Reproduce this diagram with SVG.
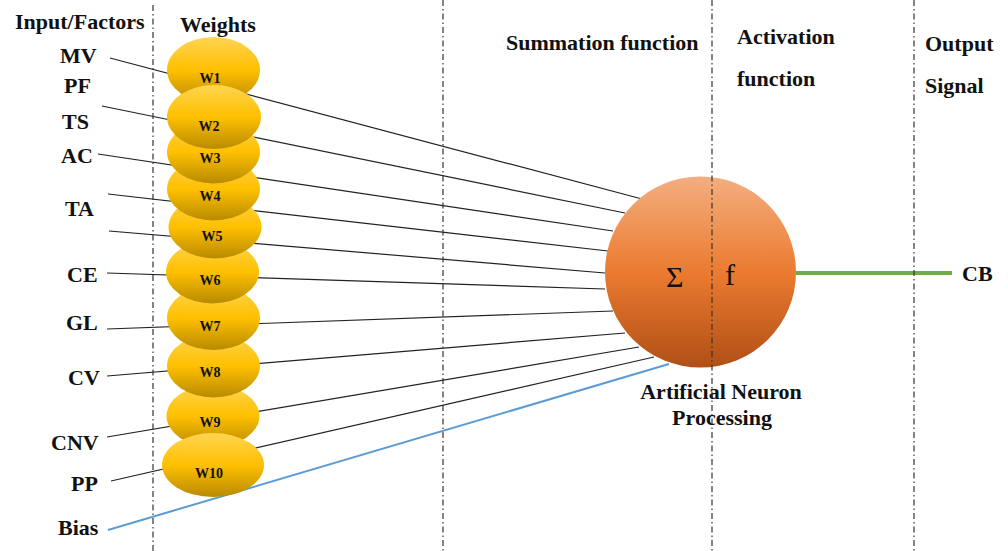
<svg xmlns="http://www.w3.org/2000/svg" width="1008" height="551" viewBox="0 0 1008 551">
<defs>
<linearGradient id="gold" x1="0" y1="0" x2="0" y2="1">
<stop offset="0" stop-color="#FFD452"/>
<stop offset="0.5" stop-color="#FFC000"/>
<stop offset="1" stop-color="#B88A00"/>
</linearGradient>
<linearGradient id="orange" x1="0" y1="0" x2="0" y2="1">
<stop offset="0" stop-color="#F3AE80"/>
<stop offset="0.5" stop-color="#EB7B30"/>
<stop offset="1" stop-color="#B04F16"/>
</linearGradient>
<style>
text{font-family:'Liberation Serif','DejaVu Serif',serif}
.t{font-weight:bold;font-size:22px;fill:#111}
.w{font-weight:bold;font-size:14px;fill:#111;text-anchor:middle}
.g{font-size:30px;fill:#111}
.e{fill:url(#gold)}
.in{stroke:#222;stroke-width:1.2;fill:none}
.dl{stroke:#333;stroke-width:1.2;stroke-dasharray:6 3 1.5 3;fill:none}
</style>
</defs>
<rect width="1008" height="551" fill="#fff"/>

<g id="connectors">
<line class="in" x1="110" y1="58" x2="642" y2="199"/>
<line class="in" x1="102" y1="106" x2="625" y2="213"/>
<line class="in" x1="98" y1="154" x2="613" y2="231"/>
<line class="in" x1="108" y1="194" x2="608" y2="251"/>
<line class="in" x1="109" y1="231" x2="605" y2="273"/>
<line class="in" x1="107" y1="273" x2="605" y2="289"/>
<line class="in" x1="107" y1="329" x2="613" y2="311"/>
<line class="in" x1="107" y1="376" x2="625" y2="333"/>
<line class="in" x1="107" y1="437" x2="639" y2="347"/>
<line class="in" x1="111" y1="481" x2="654" y2="357"/>
<line x1="108" y1="530" x2="669" y2="364" stroke="#5B9BD5" stroke-width="2"/>
<line x1="796" y1="273" x2="952" y2="273" stroke="#70AD47" stroke-width="4"/>
</g>

<g id="inputs">
<text class="t" x="15" y="29">Input/Factors</text>
<text class="t" x="60" y="63">MV</text>
<text class="t" x="64" y="93">PF</text>
<text class="t" x="62" y="129">TS</text>
<text class="t" x="61" y="163">AC</text>
<text class="t" x="65" y="216">TA</text>
<text class="t" x="67" y="282">CE</text>
<text class="t" x="66" y="330">GL</text>
<text class="t" x="68" y="385">CV</text>
<text class="t" x="51" y="450">CNV</text>
<text class="t" x="71" y="491">PP</text>
<text class="t" x="58" y="535">Bias</text>
</g>

<g id="weights">
<text class="t" x="180" y="32">Weights</text>
<g id="w1"><ellipse class="e" cx="213.5" cy="70" rx="46.5" ry="33"/><text class="w" x="210" y="83">W1</text></g>
<g id="w9"><ellipse class="e" cx="213" cy="416" rx="46.5" ry="31"/><text class="w" x="210" y="427">W9</text></g>
<g id="w8"><ellipse class="e" cx="213.5" cy="366" rx="46.5" ry="31.5"/><text class="w" x="210" y="377">W8</text></g>
<g id="w7"><ellipse class="e" cx="213.5" cy="318" rx="46.5" ry="32"/><text class="w" x="210" y="331">W7</text></g>
<g id="w6"><ellipse class="e" cx="212.5" cy="272" rx="46.5" ry="31.5"/><text class="w" x="210" y="285">W6</text></g>
<g id="w5"><ellipse class="e" cx="215" cy="227" rx="46.5" ry="31.5"/><text class="w" x="212" y="241">W5</text></g>
<g id="w4"><ellipse class="e" cx="213.5" cy="189" rx="46.5" ry="31.5"/><text class="w" x="210" y="201">W4</text></g>
<g id="w3"><ellipse class="e" cx="213.5" cy="152" rx="46.5" ry="31.5"/><text class="w" x="210" y="163">W3</text></g>
<g id="w2"><ellipse class="e" cx="214" cy="117" rx="47" ry="32"/><text class="w" x="209" y="131">W2</text></g>
<g id="w10"><ellipse class="e" cx="213" cy="465" rx="51" ry="32"/><text class="w" x="209" y="478">W10</text></g>
</g>

<g id="neuron">
<circle cx="700.5" cy="272" r="95.5" fill="url(#orange)"/>
<text class="g" x="666" y="287">Σ</text>
<text class="g" x="725" y="285" font-size="37">f</text>
<text class="t" x="721" y="399" text-anchor="middle">Artificial Neuron</text>
<text class="t" x="722" y="425" text-anchor="middle">Processing</text>
</g>

<g id="headers">
<text class="t" x="506" y="50">Summation function</text>
<text class="t" x="737" y="44">Activation</text>
<text class="t" x="737" y="86">function</text>
<text class="t" x="925" y="51">Output</text>
<text class="t" x="925" y="93">Signal</text>
</g>

<g id="output">
<text class="t" x="962" y="281">CB</text>
</g>

<g id="dividers">
<line class="dl" x1="153" y1="5" x2="153" y2="551"/>
<line class="dl" x1="443" y1="0" x2="443" y2="551"/>
<line class="dl" x1="712" y1="0" x2="712" y2="551"/>
<line class="dl" x1="914" y1="0" x2="914" y2="551"/>
</g>
</svg>
